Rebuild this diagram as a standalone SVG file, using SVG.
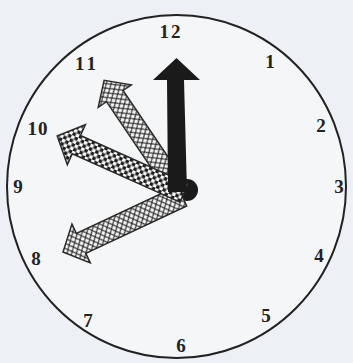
<svg xmlns="http://www.w3.org/2000/svg" width="353" height="363" viewBox="0 0 353 363">
<defs>
<style>
.num{font-family:"Liberation Serif","Times New Roman",serif;font-weight:bold;font-size:19px;fill:#222;text-anchor:middle}
.hand{stroke:#2a2a2a;stroke-width:1.5;stroke-linejoin:miter}
</style>
<pattern id="chk" width="7" height="7" patternUnits="userSpaceOnUse">
<rect width="7" height="7" fill="#fafafa"/>
<rect width="3.5" height="3.5" fill="#1e1e1e"/>
<rect x="3.5" y="3.5" width="3.5" height="3.5" fill="#1e1e1e"/>
</pattern>
<pattern id="mesh" width="7" height="6" patternUnits="userSpaceOnUse">
<rect width="7" height="6" fill="#f8f8f8"/>
<path d="M0,0 L3.5,3 L0,6 M7,0 L3.5,3 L7,6" stroke="#333" stroke-width="1.2" fill="none"/>
</pattern>
</defs>
<rect width="353" height="363" fill="#edf0f4"/>
<g id="face">
<ellipse cx="176.5" cy="186.5" rx="169.5" ry="171.5" fill="#f4f6f8" stroke="#222" stroke-width="2"/>
</g>
<g id="numbers">
<text class="num" x="171" y="38" letter-spacing="2">12</text>
<text class="num" x="270" y="68">1</text>
<text class="num" x="87" y="70" letter-spacing="3">11</text>
<text class="num" x="321" y="132">2</text>
<text class="num" x="38" y="135" letter-spacing="1">10</text>
<text class="num" x="18" y="193">9</text>
<text class="num" x="339" y="193">3</text>
<text class="num" x="36" y="265">8</text>
<text class="num" x="319" y="262">4</text>
<text class="num" x="88" y="327">7</text>
<text class="num" x="266" y="322">5</text>
<text class="num" x="181" y="352">6</text>
</g>
<g id="hub">
<circle cx="187" cy="190" r="11" fill="#1a1a1a"/>
</g>
<g id="hand-8" transform="translate(182,196) rotate(-115.2)">
<path class="hand" fill="url(#mesh)" d="M-11,0 L-11,-111.5 L-21.5,-111.5 L0,-131.5 L21.5,-111.5 L11,-111.5 L11,0 Z"/>
</g>
<g id="hand-11" transform="translate(177,188) rotate(-34.1)">
<path class="hand" fill="url(#mesh)" d="M-10,0 L-10,-111 L-20,-111 L0,-130 L20,-111 L10,-111 L10,0 Z"/>
</g>
<g id="hand-10" transform="translate(184,193) rotate(-65.8)">
<path class="hand" fill="url(#chk)" d="M-10,0 L-10,-118 L-22,-118 L0,-139 L22,-118 L10,-118 L10,0 Z"/>
</g>
<g id="hand-12">
<path fill="#1a1a1a" d="M168,192 L167,80 L153,80 L176.5,58 L200,80 L184,80 L187,192 Z"/>
</g>
</svg>
